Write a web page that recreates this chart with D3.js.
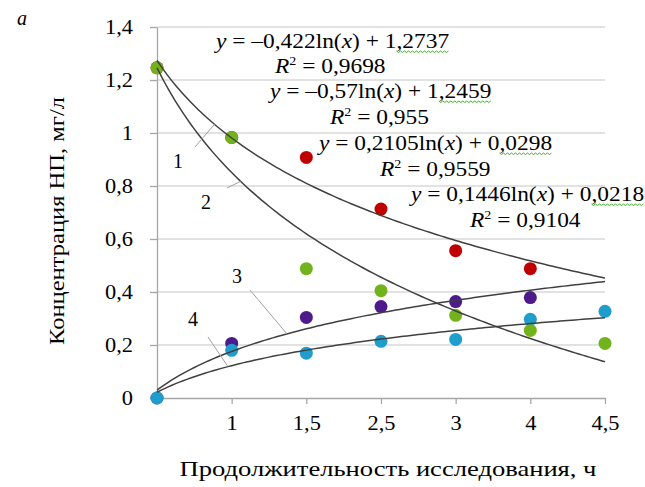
<!DOCTYPE html>
<html><head><meta charset="utf-8">
<script src="https://cdn.jsdelivr.net/npm/d3@7"></script>
<style>
body{margin:0;background:#fff;}
svg{display:block;}
text{font-family:"Liberation Serif","Times New Roman",serif;fill:#000;}
</style></head>
<body>
<script>
// ---- data ----
const categories = ["", "1", "1,5", "2,5", "3", "4", "4,5"];
const seriesRed    = [1.246, 0.983, 0.908, 0.713, 0.556, 0.488, null];
const seriesGreen  = [1.246, 0.983, 0.488, 0.405, 0.312, 0.255, 0.206];
const seriesPurple = [0, 0.206, 0.304, 0.345, 0.364, 0.379, null];
const seriesBlue   = [0, 0.18, 0.169, 0.214, 0.221, 0.297, 0.327];
const trendA = [-0.422, -0.57, 0.2105, 0.1446];
const trendB = [1.2737, 1.2459, 0.0298, 0.0218];
const trendR2 = ["0,9698", "0,955", "0,9559", "0,9104"];
const trendNames = ["1", "2", "3", "4"];
const yTicks = [0, 0.2, 0.4, 0.6, 0.8, 1, 1.2, 1.4];
const xTitle = "Продолжительность исследования, ч";
const yTitle = "Концентрация НП, мг/л";

const W = 645, H = 487;
const STRETCH = 1.17;
const svg = d3.select("body").append("svg").attr("width", W).attr("height", H);

function stretch(sel, f) {
  sel.each(function () {
    const L = this.getComputedTextLength();
    d3.select(this).attr("textLength", L * f).attr("lengthAdjust", "spacingAndGlyphs");
  });
}

const x = d3.scalePoint().domain(d3.range(categories.length)).range([157, 605]);
const xc = d3.scaleLinear().domain([1, categories.length]).range([157, 605]);
const y = d3.scaleLinear().domain([0, 1.4]).range([398, 27]);
const fmt = d => String(+d.toFixed(1)).replace(".", ",");

// grid
svg.append("g").selectAll("line").data(yTicks.filter(d => d > 0)).join("line")
  .attr("x1", 157).attr("x2", 605).attr("y1", d => y(d)).attr("y2", d => y(d))
  .attr("stroke", "#d9d9d9").attr("stroke-width", 1.3);

// axes
const gy = svg.append("g").attr("transform", "translate(157,0)")
  .call(d3.axisLeft(y).tickValues(yTicks).tickFormat(fmt).tickSize(7).tickSizeOuter(0).tickPadding(17));
const gx = svg.append("g").attr("transform", "translate(0,398)")
  .call(d3.axisBottom(x).tickFormat(i => categories[i]).tickSize(6).tickSizeOuter(0).tickPadding(12));
[gx, gy].forEach(g => {
  g.select(".domain").attr("stroke", "#a6a6a6").attr("stroke-width", 1.3);
  g.selectAll(".tick line").attr("stroke", "#a6a6a6").attr("stroke-width", 1.3);
  g.selectAll("text").style("font-family", "'Liberation Serif', serif").style("font-size", "20px").attr("fill", "#000");
  stretch(g.selectAll("text"), 1.12);
});

// points
const series = [
  {v: seriesRed, c: "#c00000"},
  {v: seriesPurple, c: "#4d1a8c"},
  {v: seriesBlue, c: "#1f9dcc"},
  {v: seriesGreen, c: "#72b21c"}
];
series.forEach(s => {
  svg.append("g").selectAll("circle")
    .data(s.v.map((v, i) => ({v, i})).filter(d => d.v !== null))
    .join("circle")
    .attr("cx", d => x(d.i)).attr("cy", d => y(d.v)).attr("r", 6.5)
    .attr("fill", s.c);
});

// trend lines
const line = d3.line().x(d => xc(d[0])).y(d => y(d[1]));
trendA.forEach((a, k) => {
  const pts = d3.range(1, categories.length + 0.001, 0.05).map(t => [t, a * Math.log(t) + trendB[k]]);
  svg.append("path").attr("d", line(pts)).attr("fill", "none")
    .attr("stroke", "#404040").attr("stroke-width", 1.5);
});

// leader lines + curve labels
const leaders = [
  {name: 0, lx: 178, ly: 168, t: 1.77, from: [195, 147]},
  {name: 1, lx: 206, ly: 209, t: 2.12, from: [227, 188]},
  {name: 2, lx: 237, ly: 283, t: 2.74, from: [250, 290]},
  {name: 3, lx: 193, ly: 326, t: 1.95, from: [208, 337]}
];
leaders.forEach(L => {
  const k = L.name;
  const tx = xc(L.t), ty = y(trendA[k] * Math.log(L.t) + trendB[k]);
  svg.append("line").attr("x1", L.from[0]).attr("y1", L.from[1]).attr("x2", tx).attr("y2", ty)
    .attr("stroke", "#a0a0a0").attr("stroke-width", 1);
  svg.append("text").attr("x", L.lx).attr("y", L.ly).attr("text-anchor", "middle")
    .style("font-size", "20px").text(trendNames[k]);
});

// equations
const eqPos = [
  {x: 216, y: 48, rx: 275, ry: 73},
  {x: 270, y: 98, rx: 330, ry: 124},
  {x: 319, y: 150, rx: 380, ry: 176},
  {x: 411, y: 201, rx: 470, ry: 227}
];
const num = v => String(v).replace(".", ",").replace("-", "–");
trendA.forEach((a, k) => {
  const p = eqPos[k];
  const t = svg.append("text").attr("x", p.x).attr("y", p.y).style("font-size", "20px");
  t.append("tspan").style("font-style", "italic").text("y");
  t.append("tspan").text(" = " + num(a) + "ln(");
  t.append("tspan").style("font-style", "italic").text("x");
  t.append("tspan").text(") + ");
  const last = num(trendB[k]);
  t.append("tspan").text(last);
  stretch(t, STRETCH);
  // wavy spell-check underline under the constant
  const node = t.node();
  const n = node.getNumberOfChars();
  const s0 = node.getStartPositionOfChar(n - last.length + 1).x;
  const s1 = node.getEndPositionOfChar(n - 1).x;
  const wave = [];
  for (let xx = s0, j = 0; xx <= s1; xx += 2, j++) wave.push([xx, p.y + 3 + (j % 2 ? 1.5 : 0)]);
  svg.append("path").attr("d", d3.line()(wave)).attr("fill", "none")
    .attr("stroke", "#3fae2a").attr("stroke-width", 1);

  const r = svg.append("text").attr("x", p.rx).attr("y", p.ry).style("font-size", "20px");
  r.append("tspan").style("font-style", "italic").text("R");
  r.append("tspan").style("font-size", "12px").attr("dy", -8).text("2");
  r.append("tspan").attr("dy", 8).text(" = " + trendR2[k]);
  stretch(r, STRETCH);
});

// titles
svg.append("text").attr("x", 22).attr("y", 25).attr("text-anchor", "middle")
  .style("font-size", "20px").style("font-style", "italic").text("а");
svg.append("text").attr("x", 388).attr("y", 476).attr("text-anchor", "middle")
  .style("font-size", "21px").attr("textLength", 417).attr("lengthAdjust", "spacingAndGlyphs").text(xTitle);
svg.append("text").attr("transform", "translate(64,221) rotate(-90)").attr("text-anchor", "middle")
  .style("font-size", "21px").attr("textLength", 248).attr("lengthAdjust", "spacingAndGlyphs").text(yTitle);
</script>
</body></html>
